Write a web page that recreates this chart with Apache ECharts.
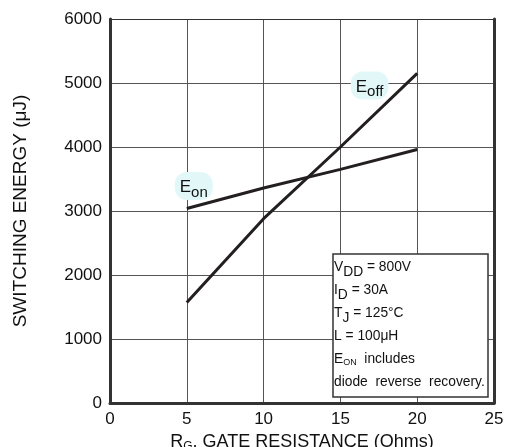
<!DOCTYPE html>
<html><head><meta charset="utf-8">
<script src="https://cdn.jsdelivr.net/npm/echarts@6/dist/echarts.min.js"></script>
<style>html,body{margin:0;padding:0;background:#fff}#c{width:506px;height:447px}</style>
</head><body><div id="c"></div>
<script>
const rg = [5, 10, 15, 20];
const eon = [3040, 3360, 3650, 3960];
const eoff = [1570, 2880, 4000, 5150];
const xTicks = [0, 5, 10, 15, 20, 25];
const yTicks = [0, 1000, 2000, 3000, 4000, 5000, 6000];
const eonLabelAt = [5.45, 3390];
const eoffLabelAt = [16.9, 4960];

const FF = 'Liberation Sans, Arial, sans-serif';
const chart = echarts.init(document.getElementById('c'), null, {renderer: 'canvas'});
const lab = (txt, sub) => '{e|' + txt + '}{s|' + sub + '}';
const labRich = {
  e: {fontSize: 17, fontFamily: FF, color: '#111'},
  s: {fontSize: 15, fontFamily: FF, color: '#111', padding: [10, 0, 0, 0]}
};
function mk(coord, txt, sub) {
  return {
    symbol: 'circle', symbolSize: 1, silent: true,
    itemStyle: {color: 'rgba(0,0,0,0)'},
    label: {show: true, position: 'inside', formatter: lab(txt, sub), rich: labRich,
      backgroundColor: '#e2f8f8', borderRadius: 12, padding: [3, 5, 0, 5]},
    data: [{coord: coord}]
  };
}
const axLabel = {fontSize: 17, color: '#111', fontFamily: FF, formatter: v => String(v)};
const nrm = {fontFamily: FF, color: '#111', lineHeight: 23, fontWeight: 'normal'};
const option = {
  animation: false,
  backgroundColor: '#fff',
  grid: {left: 110, right: 12, top: 19, bottom: 44, containLabel: false, outerBoundsMode: 'none'},
  title: {
    left: 333, top: 254,
    text: '{n|V}{s|DD}{n| = 800V}\n{n|I}{s|D}{n| = 30A}\n{n|T}{s|J}{n| = 125°C}\n{n|L = 100μH}\n{n|E}{t|ON}{n|  includes}\n{n|diode  reverse  recovery.}',
    backgroundColor: '#fff', borderColor: '#333', borderWidth: 1.5,
    padding: [2, 3, 3, 1],
    textStyle: {
      lineHeight: 23, fontWeight: 'normal',
      rich: {
        n: Object.assign({fontSize: 13.8}, nrm),
        s: Object.assign({fontSize: 13.8, padding: [9, 0, 0, 0]}, nrm),
        t: Object.assign({fontSize: 9, padding: [6, 0, 0, 0]}, nrm)
      }
    }
  },
  xAxis: [{
    type: 'value', min: xTicks[0], max: xTicks[xTicks.length - 1], interval: xTicks[1] - xTicks[0],
    axisLine: {show: true, onZero: false, lineStyle: {color: '#333', width: 3}},
    axisTick: {show: false},
    splitLine: {show: true, lineStyle: {color: '#555', width: 1}},
    axisLabel: Object.assign({margin: 8}, axLabel),
    name: '{r|R}{g|G}{r|, GATE RESISTANCE (Ohms)}',
    nameLocation: 'middle', nameGap: 28,
    nameTextStyle: {rich: {
      r: {fontSize: 18, fontFamily: FF, color: '#111'},
      g: {fontSize: 12, fontFamily: FF, color: '#111', padding: [10, 0, 0, 0]}
    }}
  }, {
    type: 'value', position: 'top', min: xTicks[0], max: xTicks[xTicks.length - 1], interval: 5,
    axisLine: {show: true, onZero: false, lineStyle: {color: '#333', width: 1}},
    axisTick: {show: false}, axisLabel: {show: false}, splitLine: {show: false}
  }],
  yAxis: [{
    type: 'value', min: yTicks[0], max: yTicks[yTicks.length - 1], interval: yTicks[1] - yTicks[0],
    axisLine: {show: true, onZero: false, lineStyle: {color: '#333', width: 3}},
    axisTick: {show: false},
    splitLine: {show: true, lineStyle: {color: '#555', width: 1}},
    axisLabel: Object.assign({margin: 8}, axLabel),
    name: 'SWITCHING ENERGY (μJ)', nameLocation: 'middle', nameGap: 80,
    nameTextStyle: {fontSize: 19, fontFamily: FF, color: '#111'}
  }, {
    type: 'value', position: 'right', min: 0, max: 6000, interval: 1000,
    axisLine: {show: true, onZero: false, lineStyle: {color: '#333', width: 3}},
    axisTick: {show: false}, axisLabel: {show: false}, splitLine: {show: false}
  }],
  series: [{
    name: 'Eon', type: 'line', showSymbol: false, symbol: 'none',
    data: rg.map((x, i) => [x, eon[i]]),
    lineStyle: {color: '#231f20', width: 3},
    markPoint: mk(eonLabelAt, 'E', 'on')
  }, {
    name: 'Eoff', type: 'line', showSymbol: false, symbol: 'none',
    data: rg.map((x, i) => [x, eoff[i]]),
    lineStyle: {color: '#231f20', width: 3},
    markPoint: mk(eoffLabelAt, 'E', 'off')
  }]
};
chart.setOption(option);
</script></body></html>
